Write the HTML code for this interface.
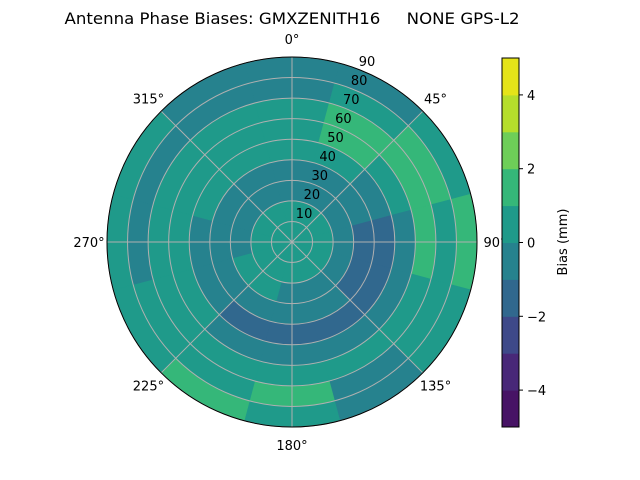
<!DOCTYPE html>
<html><head><meta charset="utf-8"><style>
body{margin:0;background:#fff;}
svg{display:block;font-family:"DejaVu Sans","Liberation Sans",sans-serif;}
</style></head><body>
<svg id="c" width="640" height="480" viewBox="0 0 640 480">
<text x="292" y="24" font-size="16" text-anchor="middle" textLength="455" lengthAdjust="spacingAndGlyphs" xml:space="preserve">Antenna Phase Biases: GMXZENITH16     NONE GPS-L2</text>
<g id="cells"></g><g id="grid"></g><g id="labels"></g><g id="cbar"></g>
</svg>
<script>
// data
const azimuths=[0,30,60,90,120,150,180,210,240,270,300,330];
const zenithBands=[0,10,20,30,40,50,60,70,80,90];
const biasRing0=[0.5,0.5,0.5,0.5,0.5,0.5,0.5,0.5,0.5,0.5,0.5,0.5];
const biasRing1=[0.5,0.5,0.5,0.5,0.5,0.5,0.5,0.5,0.5,0.5,0.5,0.5];
const biasRing2=[-0.5,-0.5,-0.5,-0.5,-0.5,-0.5,-0.5,0.5,0.5,-0.5,-0.5,-0.5];
const biasRing3=[-0.5,-0.5,-0.5,-1.5,-1.5,-0.5,-0.5,-0.5,-0.5,-0.5,-0.5,-0.5];
const biasRing4=[0.5,0.5,-0.5,-1.5,-1.5,-1.5,-1.5,-1.5,-0.5,-0.5,0.5,0.5];
const biasRing5=[0.5,1.5,0.5,-0.5,-0.5,-0.5,-0.5,-0.5,0.5,0.5,0.5,0.5];
const biasRing6=[0.5,1.5,1.5,1.5,0.5,0.5,0.5,0.5,0.5,0.5,0.5,0.5];
const biasRing7=[-0.5,0.5,1.5,0.5,0.5,-0.5,1.5,0.5,0.5,-0.5,-0.5,-0.5];
const biasRing8=[-0.5,-0.5,0.5,1.5,0.5,-0.5,0.5,1.5,0.5,0.5,0.5,-0.5];
const rings=[biasRing0,biasRing1,biasRing2,biasRing3,biasRing4,biasRing5,biasRing6,biasRing7,biasRing8];
const levels=[-5,-4,-3,-2,-1,0,1,2,3,4,5];
const levelColors=['#471365','#482878','#3e4989','#31688e','#26828e','#1f9a8a','#35b779','#6ece58','#b5de2b','#e5e419'];
const cbTicks=[-4,-2,0,2,4];
const radialTicks=[10,20,30,40,50,60,70,80,90];
const angleTicks=[0,45,90,135,180,225,270,315];

const NS='http://www.w3.org/2000/svg';
const cx=292,cy=242,R=185,zmax=90;
const rScale=z=>z/zmax*R;
const pt=(az,z)=>{const a=az*Math.PI/180,r=rScale(z);return [cx+r*Math.sin(a),cy-r*Math.cos(a)];};
const colorFor=v=>{for(let i=0;i<levels.length-1;i++){if(v>=levels[i]&&v<levels[i+1])return levelColors[i];}return v<levels[0]?levelColors[0]:levelColors[levelColors.length-1];};
function mk(tag,attrs,parent){const e=document.createElementNS(NS,tag);for(const k in attrs)e.setAttribute(k,attrs[k]);parent.appendChild(e);return e;}

const cells=document.getElementById('cells');
const step=360/azimuths.length;
rings.forEach((ring,ri)=>{
  const z0=zenithBands[ri],z1=zenithBands[ri+1];
  ring.forEach((v,ai)=>{
    const a0=azimuths[ai]-step/2,a1=azimuths[ai]+step/2;
    const p1=pt(a0,z1),p2=pt(a1,z1),p3=pt(a1,z0),p4=pt(a0,z0);
    const r1=rScale(z1),r0=rScale(z0);
    let d=`M${p1[0]},${p1[1]} A${r1},${r1} 0 0 1 ${p2[0]},${p2[1]} L${p3[0]},${p3[1]}`;
    if(r0>0)d+=` A${r0},${r0} 0 0 0 ${p4[0]},${p4[1]}`;
    d+='Z';
    const c=colorFor(v);
    const p=mk('path',{d:d,fill:c,stroke:c,'stroke-width':0.6},cells);
    
    
  });
});

const grid=document.getElementById('grid');
radialTicks.forEach(t=>{
  const c=mk('circle',{cx:cx,cy:cy,r:rScale(t),fill:'none',stroke:'#b0b0b0','stroke-width':1},grid);
  
  
});
angleTicks.forEach(a=>{
  const p=pt(a,zmax);
  const l=mk('line',{x1:cx,y1:cy,x2:p[0],y2:p[1],stroke:'#b0b0b0','stroke-width':1},grid);
  
  
});
const border=mk('circle',{cx:cx,cy:cy,r:R,fill:'none',stroke:'#000','stroke-width':1},grid);



const labels=document.getElementById('labels');
radialTicks.forEach(t=>{
  const a=22.5*Math.PI/180,r=rScale(t)+11;
  const tx=mk('text',{x:cx+r*Math.sin(a),y:cy-r*Math.cos(a)+5,'font-size':13,'text-anchor':'middle'},labels);
  tx.textContent=t;
  
  
});
angleTicks.forEach(a=>{
  const rad=a*Math.PI/180,r=R+18;
  const tx=mk('text',{x:cx+r*Math.sin(rad),y:cy-r*Math.cos(rad)+5,'font-size':13,'text-anchor':'middle'},labels);
  tx.textContent=a+'°';
  
  
});

const cb=document.getElementById('cbar');
const cbX=502,cbW=17,cbTop=58,cbBot=427;
const cbY=v=>cbBot-(v-levels[0])/(levels[levels.length-1]-levels[0])*(cbBot-cbTop);
for(let i=0;i<levelColors.length;i++){
  const r=mk('rect',{x:cbX,y:cbY(levels[i+1]),width:cbW,height:cbY(levels[i])-cbY(levels[i+1])+0.5,fill:levelColors[i]},cb);
  
  
}
const fr=mk('rect',{x:cbX,y:cbTop,width:cbW,height:cbBot-cbTop,fill:'none',stroke:'#000','stroke-width':1},cb);


cbTicks.forEach(t=>{
  const y=cbY(t);
  const l=mk('line',{x1:cbX+cbW,y1:y,x2:cbX+cbW+4,y2:y,stroke:'#000'},cb);
  
  
  const tx=mk('text',{x:cbX+cbW+8,y:y+5,'font-size':13},cb);
  tx.textContent=t<0?'\u2212'+Math.abs(t):t;
  
  
});
const lab=mk('text',{x:567,y:242,'font-size':13,'text-anchor':'middle',transform:'rotate(-90 567 242)'},cb);
lab.textContent='Bias (mm)';


</script>
</body></html>
